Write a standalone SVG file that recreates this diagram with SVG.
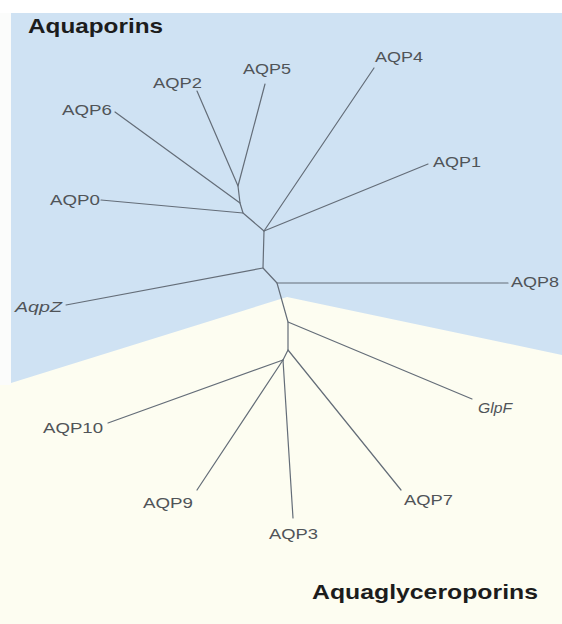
<svg xmlns="http://www.w3.org/2000/svg" width="562" height="624" viewBox="0 0 562 624">
<style>
.lbl{font-family:"Liberation Sans",Arial,sans-serif;font-size:14.5px;fill:#505458}
.it{font-style:italic}
.ttl{font-family:"Liberation Sans",Arial,sans-serif;font-size:21px;font-weight:bold;fill:#1c1c1c}
.br{fill:none;stroke:#646d78;stroke-width:1.2;stroke-linecap:round;stroke-linejoin:round}
</style>
<g id="background">
<rect x="0" y="0" width="562" height="624" fill="#fdfdf1"/>
<rect x="0" y="0" width="562" height="13" fill="#ffffff"/>
<polygon points="11,13 562,13 562,355 287,297 11,383" fill="#cfe2f3"/>
<rect x="0" y="13" width="11" height="372" fill="#fbfcfb"/>
</g>
<g id="connectors" class="br">
<polyline points="197,91 238,186 240,203 243,213 264,231 263,268 277,283 288,322 288,350 283,360"/>
<line x1="265" y1="84" x2="238" y2="186"/>
<line x1="115" y1="112" x2="240" y2="203"/>
<line x1="101" y1="200" x2="243" y2="213"/>
<line x1="374" y1="68" x2="264" y2="231"/>
<line x1="428" y1="164" x2="264" y2="231"/>
<line x1="66" y1="305" x2="263" y2="268"/>
<line x1="277" y1="283" x2="508" y2="283"/>
<line x1="288" y1="322" x2="472" y2="399"/>
<line x1="288" y1="350" x2="401" y2="490"/>
<line x1="283" y1="360" x2="108" y2="423"/>
<line x1="283" y1="360" x2="197" y2="490"/>
<line x1="283" y1="360" x2="293" y2="518"/>
</g>
<g id="title-aquaporins"><text class="ttl" x="28" y="33" textLength="135" lengthAdjust="spacingAndGlyphs">Aquaporins</text></g>
<g id="title-aquaglyceroporins"><text class="ttl" x="312" y="599" textLength="226" lengthAdjust="spacingAndGlyphs">Aquaglyceroporins</text></g>
<g id="node-AQP2"><text class="lbl" x="153" y="88" textLength="49" lengthAdjust="spacingAndGlyphs">AQP2</text></g>
<g id="node-AQP5"><text class="lbl" x="243" y="74" textLength="48" lengthAdjust="spacingAndGlyphs">AQP5</text></g>
<g id="node-AQP6"><text class="lbl" x="62" y="115" textLength="50" lengthAdjust="spacingAndGlyphs">AQP6</text></g>
<g id="node-AQP0"><text class="lbl" x="50" y="205" textLength="50" lengthAdjust="spacingAndGlyphs">AQP0</text></g>
<g id="node-AQP4"><text class="lbl" x="375" y="62" textLength="48" lengthAdjust="spacingAndGlyphs">AQP4</text></g>
<g id="node-AQP1"><text class="lbl" x="433" y="167" textLength="48" lengthAdjust="spacingAndGlyphs">AQP1</text></g>
<g id="node-AqpZ"><text class="lbl it" x="15" y="312" textLength="47" lengthAdjust="spacingAndGlyphs">AqpZ</text></g>
<g id="node-AQP8"><text class="lbl" x="511" y="287" textLength="48" lengthAdjust="spacingAndGlyphs">AQP8</text></g>
<g id="node-GlpF"><text class="lbl it" x="478" y="413" textLength="34" lengthAdjust="spacingAndGlyphs">GlpF</text></g>
<g id="node-AQP10"><text class="lbl" x="43" y="433" textLength="60" lengthAdjust="spacingAndGlyphs">AQP10</text></g>
<g id="node-AQP9"><text class="lbl" x="143" y="508" textLength="50" lengthAdjust="spacingAndGlyphs">AQP9</text></g>
<g id="node-AQP3"><text class="lbl" x="269" y="539" textLength="49" lengthAdjust="spacingAndGlyphs">AQP3</text></g>
<g id="node-AQP7"><text class="lbl" x="404" y="505" textLength="49" lengthAdjust="spacingAndGlyphs">AQP7</text></g>
</svg>
